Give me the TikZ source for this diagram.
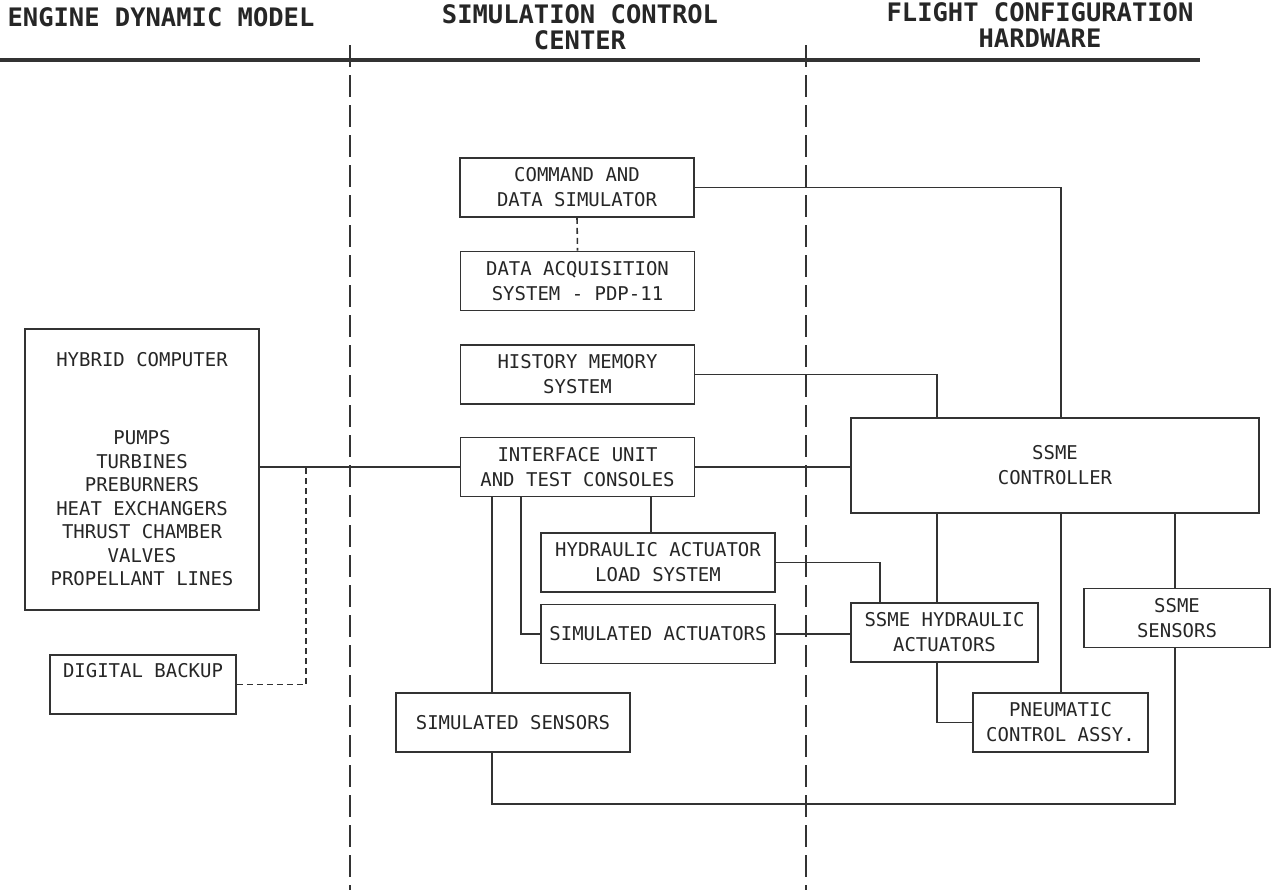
\documentclass[tikz,border=0pt]{standalone}
\usepackage{fontspec}
\newfontfamily\plotfont{DejaVu Sans Mono}
\usepackage{tikz}
\usetikzlibrary{calc}

\begin{document}
\begin{tikzpicture}[
  x=0.2mm, y=-0.2mm,
  font=\plotfont\fontsize{10.8}{14.2}\selectfont,
  text=black!85,
  blk/.style={
    draw=black!80,
    line width=1pt,
    align=center,
    inner sep=2pt,
    minimum width=46.8mm,
    minimum height=11.8mm
  },
  hdr/.style={
    font=\plotfont\bfseries\fontsize{14.5}{14.8}\selectfont,
    align=center,
    inner sep=0pt
  },
  wire/.style={
    draw=black!80,
    line width=0.9pt
  },
  dashwire/.style={
    wire,
    dash pattern=on 1.2mm off 0.8mm
  },
  divider/.style={
    draw=black!80,
    line width=0.9pt,
    dash pattern=on 4.4mm off 1.6mm
  }
]
\useasboundingbox (0,0) rectangle (1272,890);

% Column headings
\node[hdr] (hdrengine) at (161,17) {ENGINE DYNAMIC MODEL};
\node[hdr] (hdrsim) at (580,27) {SIMULATION CONTROL\\CENTER};
\node[hdr] (hdrflight) at (1040,25) {FLIGHT CONFIGURATION\\HARDWARE};

\draw[line width=1.8pt, black!80] (0,60) -- (1200,60);
\draw[divider] (350,45) -- (350,890);
\draw[divider] (806,45) -- (806,890);

% Engine dynamic model
\node[blk, minimum width=46.8mm, minimum height=56.2mm,
  font=\plotfont\fontsize{10.8}{13.4}\selectfont] (hybrid) at (142,469.5)
{HYBRID COMPUTER\\[30.8pt]
PUMPS\\
TURBINES\\
PREBURNERS\\
HEAT EXCHANGERS\\
THRUST CHAMBER\\
VALVES\\
PROPELLANT LINES};

\node[blk, minimum width=37.2mm] (backup) at (143,684.5)
{DIGITAL BACKUP\\[-2pt] \strut};

% Simulation control center
\node[blk] (cmd) at (577,187.5) {COMMAND AND\\DATA SIMULATOR};
\node[blk] (daq) at (577.5,281) {DATA ACQUISITION\\SYSTEM - PDP-11};
\node[blk] (hist) at (577.5,374.5) {HISTORY MEMORY\\SYSTEM};
\node[blk] (iface) at (577.5,467) {INTERFACE UNIT\\AND TEST CONSOLES};
\node[blk] (load) at (658,562.5) {HYDRAULIC ACTUATOR\\LOAD SYSTEM};
\node[blk] (simact) at (658,634) {SIMULATED ACTUATORS};
\node[blk] (sens) at (513,722.5) {SIMULATED SENSORS};

% Flight configuration hardware
\node[blk, minimum width=81.6mm, minimum height=19mm] (ctrl) at (1055,465.5)
{SSME\\CONTROLLER};
\node[blk, minimum width=37.4mm] (hyd) at (944.5,632.5)
{SSME HYDRAULIC\\ACTUATORS};
\node[blk, minimum width=37.2mm] (ssens) at (1177,618) {SSME\\SENSORS};
\node[blk, minimum width=35mm] (pneu) at (1060.5,722.5)
{PNEUMATIC\\CONTROL ASSY.};

% Taps on the interface unit and controller
\coordinate (if1) at ($(iface.south)+(-85.5,0)$);
\coordinate (if2) at ($(iface.south)+(-56.5,0)$);
\coordinate (if3) at ($(iface.south)+(73.5,0)$);
\coordinate (ct1) at ($(ctrl.south)+(-118,0)$);
\coordinate (ct2) at ($(ctrl.south)+(6,0)$);
\coordinate (ct3) at ($(ctrl.south)+(120,0)$);

% Connections
\draw[wire] (hybrid.east |- iface.west) -- (iface.west);
\draw[dashwire] (backup.east) -| ($(hybrid.east |- iface.west)+(46,0)$);
\draw[dashwire] (cmd.south) -- (daq.north);
\draw[wire] (cmd.east) -| (ct2 |- ctrl.north);
\draw[wire] (hist.east) -| (ct1 |- ctrl.north);
\draw[wire] (iface.east) -- (iface.east -| ctrl.west);
\draw[wire] (if1) -- (if1 |- sens.north);
\draw[wire] (if2) |- (simact.west);
\draw[wire] (if3) -- (if3 |- load.north);
\draw[wire] (load.east) -| ($(hyd.north)+(-64.5,0)$);
\draw[wire] (simact.east) -- (simact.east -| hyd.west);
\draw[wire] (ct1) -- (ct1 |- hyd.north);
\draw[wire] (ct2) -- (ct2 |- pneu.north);
\draw[wire] (ct3) -- (ct3 |- ssens.north);
\draw[wire] (ct1 |- hyd.south) |- (pneu.west);
\draw[wire] (if1 |- sens.south) -- ++(0,51) -| (ct3 |- ssens.south);

\end{tikzpicture}
\end{document}
